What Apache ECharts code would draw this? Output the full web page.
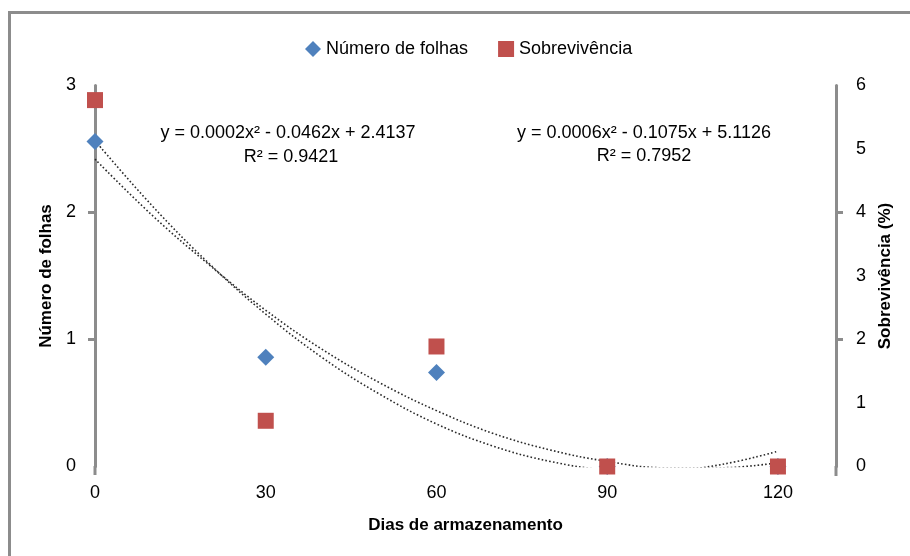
<!DOCTYPE html>
<html>
<head>
<meta charset="utf-8">
<script src="https://cdn.jsdelivr.net/npm/echarts@6/dist/echarts.min.js"></script>
<style>
html,body{margin:0;padding:0;background:#fff;}
#chart{width:910px;height:556px;}
</style>
</head>
<body>
<div id="chart"></div>
<script>
// Data
const dias = [0, 30, 60, 90, 120];
const numeroFolhas = [2.56, 0.86, 0.74, 0, 0];
const sobrevivencia = [5.77, 0.72, 1.89, 0, 0];
// Trendline curves (dotted lines)
const trendX = [0, 10, 20, 30, 40, 50, 60, 70, 80, 90, 100, 110, 120];
const trendFolhas = [2.42, 1.98, 1.59, 1.23, 0.92, 0.66, 0.44, 0.26, 0.13, 0.04, -0.01, -0.01, 0.03];
const trendSobrev = [5.13, 4.11, 3.20, 2.40, 1.71, 1.14, 0.67, 0.32, 0.08, -0.05, -0.07, 0.03, 0.24];
const xTicks = [0, 30, 60, 90, 120];
const leftTicks = [0, 1, 2, 3];
const rightTicks = [0, 1, 2, 3, 4, 5, 6];
const eqFolhas = ['y = 0.0002x² - 0.0462x + 2.4137', 'R² = 0.9421'];
const eqSobrev = ['y = 0.0006x² - 0.1075x + 5.1126', 'R² = 0.7952'];

const FONT = '"Liberation Sans", Arial, sans-serif';
const AXIS_GRAY = '#8c8c8c';

const chart = echarts.init(document.getElementById('chart'), null, {renderer: 'canvas'});
const pairs = (xs, ys) => xs.map((x, i) => [x, ys[i]]);

chart.setOption({
  animation: false,
  backgroundColor: '#fff',
  textStyle: {fontFamily: FONT},
  legend: {
    left: 300, top: 35,
    itemWidth: 16, itemHeight: 16, itemGap: 30,
    textStyle: {fontSize: 18, color: '#000', fontFamily: FONT},
    data: [
      {name: 'Número de folhas', icon: 'diamond'},
      {name: 'Sobrevivência', icon: 'rect'}
    ]
  },
  grid: {left: 95, right: 74, top: 85.5, bottom: 89.5, containLabel: false},
  xAxis: {
    type: 'value', min: 0, max: 130.2,
    name: 'Dias de armazenamento', nameLocation: 'middle', nameGap: 50,
    nameTextStyle: {fontSize: 17, fontWeight: 'bold', color: '#000', fontFamily: FONT},
    axisLine: {show: false}, axisTick: {show: false}, splitLine: {show: false},
    axisLabel: {customValues: xTicks, fontSize: 18, color: '#000', margin: 18, fontFamily: FONT}
  },
  yAxis: [
    {
      type: 'value', min: 0, max: 3, position: 'left',
      name: 'Número de folhas', nameLocation: 'middle', nameGap: 40, nameRotate: 90,
      nameTextStyle: {fontSize: 17, fontWeight: 'bold', color: '#000', fontFamily: FONT},
      axisLine: {show: true, lineStyle: {color: AXIS_GRAY, width: 3}},
      axisTick: {show: true, customValues: [1, 2], length: 7, lineStyle: {color: AXIS_GRAY, width: 3}},
      splitLine: {show: false},
      axisLabel: {customValues: leftTicks, fontSize: 18, color: '#000', margin: 19, fontFamily: FONT}
    },
    {
      type: 'value', min: 0, max: 6, position: 'right',
      name: 'Sobrevivência (%)', nameLocation: 'middle', nameGap: 41, nameRotate: 90,
      nameTextStyle: {fontSize: 17, fontWeight: 'bold', color: '#000', fontFamily: FONT},
      axisLine: {show: true, lineStyle: {color: AXIS_GRAY, width: 3}},
      axisTick: {show: true, customValues: [2, 4], length: 7, lineStyle: {color: AXIS_GRAY, width: 3}},
      splitLine: {show: false},
      axisLabel: {customValues: rightTicks, fontSize: 18, color: '#000', margin: 20, fontFamily: FONT}
    }
  ],
  series: [
    {
      name: 'trend folhas', type: 'line', yAxisIndex: 0, z: 1,
      data: pairs(trendX, trendFolhas), smooth: 0.4, showSymbol: false, clip: true,
      lineStyle: {color: '#2a2a2a', width: 1.6, type: [1.6, 2.2]}, silent: true
    },
    {
      name: 'trend sobrev', type: 'line', yAxisIndex: 1, z: 1,
      data: pairs(trendX, trendSobrev), smooth: 0.4, showSymbol: false, clip: true,
      lineStyle: {color: '#2a2a2a', width: 1.6, type: [1.6, 2.2]}, silent: true
    },
    {
      name: 'Número de folhas', type: 'scatter', yAxisIndex: 0, z: 3,
      symbol: 'diamond', symbolSize: 17,
      itemStyle: {color: '#4F81BD', opacity: 1},
      data: pairs(dias, numeroFolhas)
    },
    {
      name: 'Sobrevivência', type: 'scatter', yAxisIndex: 1, z: 4,
      symbol: 'rect', symbolSize: 16,
      itemStyle: {color: '#C0504D', opacity: 1},
      data: pairs(dias, sobrevivencia)
    }
  ],
  graphic: [
    {type: 'rect', shape: {x: 9.5, y: 12.5, width: 1000, height: 1000},
     style: {fill: 'none', stroke: AXIS_GRAY, lineWidth: 3}, silent: true},
    {type: 'line', shape: {x1: 95, y1: 466, x2: 95, y2: 475}, style: {stroke: AXIS_GRAY, lineWidth: 3}},
    {type: 'line', shape: {x1: 836, y1: 466, x2: 836, y2: 476}, style: {stroke: AXIS_GRAY, lineWidth: 3}},
    {type: 'text', x: 288, y: 133, style: {text: eqFolhas[0], font: '18px ' + FONT, fill: '#000', textAlign: 'center', textVerticalAlign: 'middle'}},
    {type: 'text', x: 291, y: 157, style: {text: eqFolhas[1], font: '18px ' + FONT, fill: '#000', textAlign: 'center', textVerticalAlign: 'middle'}},
    {type: 'text', x: 644, y: 133, style: {text: eqSobrev[0], font: '18px ' + FONT, fill: '#000', textAlign: 'center', textVerticalAlign: 'middle'}},
    {type: 'text', x: 644, y: 156, style: {text: eqSobrev[1], font: '18px ' + FONT, fill: '#000', textAlign: 'center', textVerticalAlign: 'middle'}}
  ]
});
</script>
</body>
</html>
